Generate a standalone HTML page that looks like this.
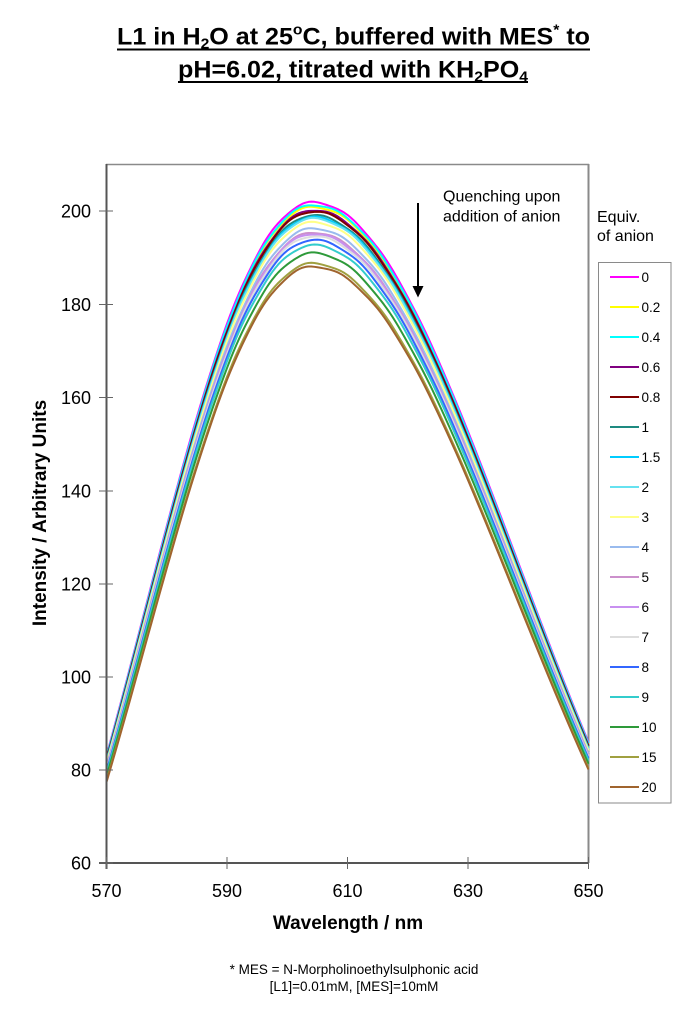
<!DOCTYPE html>
<html>
<head>
<meta charset="utf-8">
<style>
  html,body{margin:0;padding:0;background:#fff;}
  body{width:700px;height:1011px;overflow:hidden;}
  svg{display:block;}
  text{font-family:"Liberation Sans", Arial, sans-serif;fill:#000;}
</style>
</head>
<body>
<svg id="chart" width="700" height="1011" viewBox="0 0 700 1011" xmlns="http://www.w3.org/2000/svg">
  <rect x="0" y="0" width="700" height="1011" fill="#fff"/>

  <!-- Title -->
  <text x="117" y="44.5" font-size="24" font-weight="bold" textLength="473" lengthAdjust="spacingAndGlyphs">L1 in H<tspan font-size="15" dy="4">2</tspan><tspan dy="-4">O at 25</tspan><tspan font-size="15" dy="-10">o</tspan><tspan dy="10">C, buffered with MES</tspan><tspan font-size="15" dy="-10">*</tspan><tspan dy="10"> to</tspan></text>
  <line x1="117" y1="49.5" x2="590" y2="49.5" stroke="#000" stroke-width="2"/>
  <text x="178" y="77.5" font-size="24" font-weight="bold" textLength="350" lengthAdjust="spacingAndGlyphs">pH=6.02, titrated with KH<tspan font-size="15" dy="4">2</tspan><tspan dy="-4">PO</tspan><tspan font-size="15" dy="4">4</tspan></text>
  <line x1="178" y1="82" x2="528" y2="82" stroke="#000" stroke-width="2"/>

  <!-- Plot frame -->
  <line x1="106" y1="164.5" x2="589" y2="164.5" stroke="#8a8a8a" stroke-width="1.5"/>
  <line x1="588.5" y1="164" x2="588.5" y2="863" stroke="#8a8a8a" stroke-width="2"/>

  <g id="series"></g>

  <!-- Axes -->
  <line x1="106.5" y1="164" x2="106.5" y2="869" stroke="#555" stroke-width="2"/>
  <line x1="99" y1="863" x2="589" y2="863" stroke="#555" stroke-width="2"/>

  <!-- Y ticks -->
  <g stroke="#666" stroke-width="1">
    <line x1="99" y1="863" x2="113" y2="863"/>
    <line x1="99" y1="770" x2="113" y2="770"/>
    <line x1="99" y1="677" x2="113" y2="677"/>
    <line x1="99" y1="584" x2="113" y2="584"/>
    <line x1="99" y1="491" x2="113" y2="491"/>
    <line x1="99" y1="397.5" x2="113" y2="397.5"/>
    <line x1="99" y1="304.5" x2="113" y2="304.5"/>
    <line x1="99" y1="211" x2="113" y2="211"/>
  </g>
  <!-- X ticks -->
  <g stroke="#666" stroke-width="1">
    <line x1="106.5" y1="857" x2="106.5" y2="869"/>
    <line x1="227" y1="857" x2="227" y2="869"/>
    <line x1="347.5" y1="857" x2="347.5" y2="869"/>
    <line x1="468" y1="857" x2="468" y2="869"/>
    <line x1="588.5" y1="857" x2="588.5" y2="869"/>
  </g>

  <!-- Y tick labels -->
  <g font-size="18" text-anchor="end">
    <text x="91" y="869.5">60</text>
    <text x="91" y="776.5">80</text>
    <text x="91" y="683.5">100</text>
    <text x="91" y="590.5">120</text>
    <text x="91" y="497.5">140</text>
    <text x="91" y="404">160</text>
    <text x="91" y="311">180</text>
    <text x="91" y="217.5">200</text>
  </g>
  <!-- X tick labels -->
  <g font-size="18" text-anchor="middle">
    <text x="106.5" y="897">570</text>
    <text x="227" y="897">590</text>
    <text x="347.5" y="897">610</text>
    <text x="468" y="897">630</text>
    <text x="588.5" y="897">650</text>
  </g>

  <!-- Axis titles -->
  <text x="348" y="929" font-size="19" font-weight="bold" text-anchor="middle">Wavelength / nm</text>
  <text transform="translate(46,513) rotate(-90)" font-size="19" font-weight="bold" text-anchor="middle">Intensity / Arbitrary Units</text>

  <!-- Annotation -->
  <text x="443" y="201.5" font-size="16">Quenching upon</text>
  <text x="443" y="221.5" font-size="16">addition of anion</text>
  <line x1="418" y1="203" x2="418" y2="288" stroke="#000" stroke-width="2"/>
  <polygon points="412.5,286 423.5,286 418,297.5" fill="#000"/>

  <!-- Legend -->
  <text x="597" y="222" font-size="16">Equiv.</text>
  <text x="597" y="241" font-size="16">of anion</text>
  <rect x="598.5" y="262.5" width="72.5" height="540.5" fill="#fff" stroke="#8a8a8a" stroke-width="1"/>
  <g id="legend" font-size="13.5"></g>

  <!-- Footnote -->
  <text x="354" y="974" font-size="13.5" text-anchor="middle">* MES = N-Morpholinoethylsulphonic acid</text>
  <text x="354" y="991" font-size="13.5" text-anchor="middle">[L1]=0.01mM, [MES]=10mM</text>
</svg>

<script>
(function(){
  var NS = "http://www.w3.org/2000/svg";
  var labels = ["0","0.2","0.4","0.6","0.8","1","1.5","2","3","4","5","6","7","8","9","10","15","20"];
  var cols = ["#FF00FF","#FFFF00","#00FFFF","#800080","#800000","#1E8A80","#00CCFF","#66E2F0",
              "#FFFF88","#99BBEE","#CC90CC","#C890F0","#DDDDDD","#3366FF","#33CCCC","#2E9A3A",
              "#A0A040","#A0642E"];
  var P = [201.8,200.8,201.2,200.1,199.8,199.0,198.6,198.3,197.5,196.2,195.3,195.0,194.5,193.7,192.6,190.9,188.7,188.0];
  var g = document.getElementById("series");
  var lg = document.getElementById("legend");
  function X(l){ return 106.5 + 6.025*(l-570); }
  function Y(v){ return 863 - (v-60)*4.66; }
  for (var i=0;i<P.length;i++){
    var d = "";
    for (var k=0;k<=160;k++){
      var l = 570 + k*0.5;
      var D = l - 604.3;
      var s = D<0 ? (27.3 - 0.07*Math.max(0,-D-12)) : (33.6 + 0.03*D);
      var v = P[i]*Math.exp(-D*D/(2*s*s));
      v += 0.15*Math.sin(l*0.95 + i*0.8)*Math.exp(-D*D/300);
      d += (k===0?"M":"L") + X(l).toFixed(2) + "," + Y(v).toFixed(2);
    }
    var p = document.createElementNS(NS,"path");
    p.setAttribute("d",d);
    p.setAttribute("fill","none");
    p.setAttribute("stroke",cols[i]);
    p.setAttribute("stroke-width","2");
    p.setAttribute("stroke-linejoin","round");
    g.appendChild(p);

    var y = 277 + 30*i;
    var ln = document.createElementNS(NS,"line");
    ln.setAttribute("x1","610"); ln.setAttribute("x2","639");
    ln.setAttribute("y1",y); ln.setAttribute("y2",y);
    ln.setAttribute("stroke",cols[i]); ln.setAttribute("stroke-width","2");
    lg.appendChild(ln);
    var t = document.createElementNS(NS,"text");
    t.setAttribute("x","641.5"); t.setAttribute("y", y+5);
    t.textContent = labels[i];
    lg.appendChild(t);
  }
})();
</script>
</body>
</html>
